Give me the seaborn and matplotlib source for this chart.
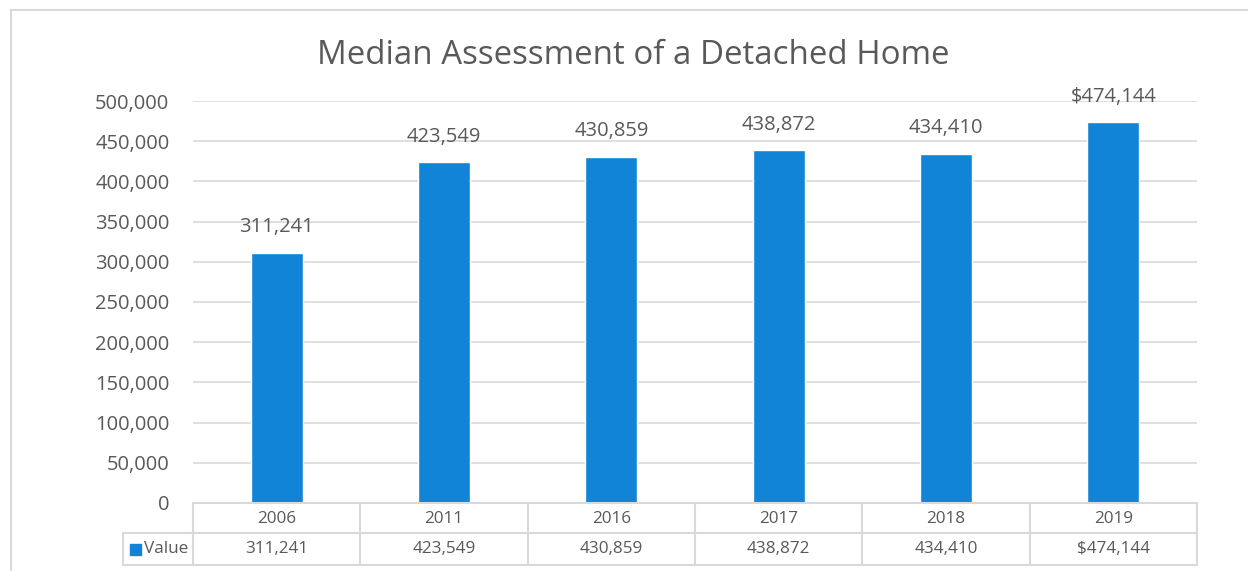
import matplotlib
matplotlib.use("Agg")
import matplotlib.pyplot as plt
import seaborn as sns
import pandas as pd

# chart data
years = ["2006", "2011", "2016", "2017", "2018", "2019"]
values = [311241, 423549, 430859, 438872, 434410, 474144]
labels = ["311,241", "423,549", "430,859", "438,872", "434,410", "$474,144"]
y_ticks = list(range(0, 500001, 50000))
series_name = "Value"
title = "Median Assessment of a Detached Home"

BAR = "#1184D8"
TXT = "#595959"
GRID = "#D9D9D9"

sns.set_style("white")
plt.rcParams["font.family"] = ["Open Sans", "DejaVu Sans"]

W, H = 1248, 571
fig = plt.figure(figsize=(W / 100, H / 100), dpi=100)

def px_box(x0, y0, x1, y1):
    return [x0 / W, 1 - y1 / H, (x1 - x0) / W, (y1 - y0) / H]

# main bar axes
ax = fig.add_axes(px_box(193, 101, 1197, 503))
df = pd.DataFrame({"year": years, "value": values})
sns.barplot(data=df, x="year", y="value", color=BAR, width=0.31,
            saturation=1, ax=ax, zorder=3)
ax.set_ylim(0, 500000)
ax.set_xlim(-0.5, len(years) - 0.5)
ax.set_yticks(y_ticks)
ax.set_yticklabels([f"{v:,}" for v in y_ticks], fontsize=14.5, color=TXT)
ax.tick_params(axis="y", length=0, pad=17)
ax.set_xticks([])
ax.set_xlabel("")
ax.set_ylabel("")
ax.yaxis.grid(True, color=GRID, lw=1.2, zorder=0)
for s in ax.spines.values():
    s.set_visible(False)

for i, (v, lab) in enumerate(zip(values, labels)):
    ax.text(i, v + 19000, lab, ha="center", va="bottom",
            fontsize=14.5, color=TXT)

fig.text(633 / W, 1 - 56 / H, title, ha="center", va="center",
         fontsize=23.8, color=TXT)

# overlay axes in pixel coordinates for the data table and frame
ov = fig.add_axes([0, 0, 1, 1])
ov.set_xlim(0, W)
ov.set_ylim(H, 0)
ov.axis("off")

# outer chart frame (cropped at right and bottom)
ov.plot([11, W], [10, 10], color=GRID, lw=1.5)
ov.plot([11, 11], [10, H], color=GRID, lw=1.5)

# column boundaries from the bar axis
to_px = lambda xd: ax.transData.transform((xd, 0))[0]
bounds = [to_px(i - 0.5) for i in range(len(years) + 1)]
centers = [to_px(i) for i in range(len(years))]
row_top, row_mid, row_bot = 503, 533, 565
lab_left = 123

tl = dict(color=GRID, lw=1.5)
ov.plot([bounds[0], bounds[-1]], [row_top, row_top], **tl)
ov.plot([lab_left, bounds[-1]], [row_mid, row_mid], **tl)
ov.plot([lab_left, bounds[-1]], [row_bot, row_bot], **tl)
ov.plot([lab_left, lab_left], [row_mid, row_bot], **tl)
for b in bounds:
    ov.plot([b, b], [row_top, row_bot], **tl)

for c, yr, lab in zip(centers, years, labels):
    ov.text(c, (row_top + row_mid) / 2 + 1, yr, ha="center", va="center",
            fontsize=12.3, color=TXT)
    ov.text(c, (row_mid + row_bot) / 2, lab, ha="center", va="center",
            fontsize=12.3, color=TXT)

ov.add_patch(plt.Rectangle((130, 544), 11, 11, color=BAR))
ov.text(144, (row_mid + row_bot) / 2, series_name, ha="left", va="center",
        fontsize=12.3, color=TXT)

fig.savefig("out.png", dpi=100)
